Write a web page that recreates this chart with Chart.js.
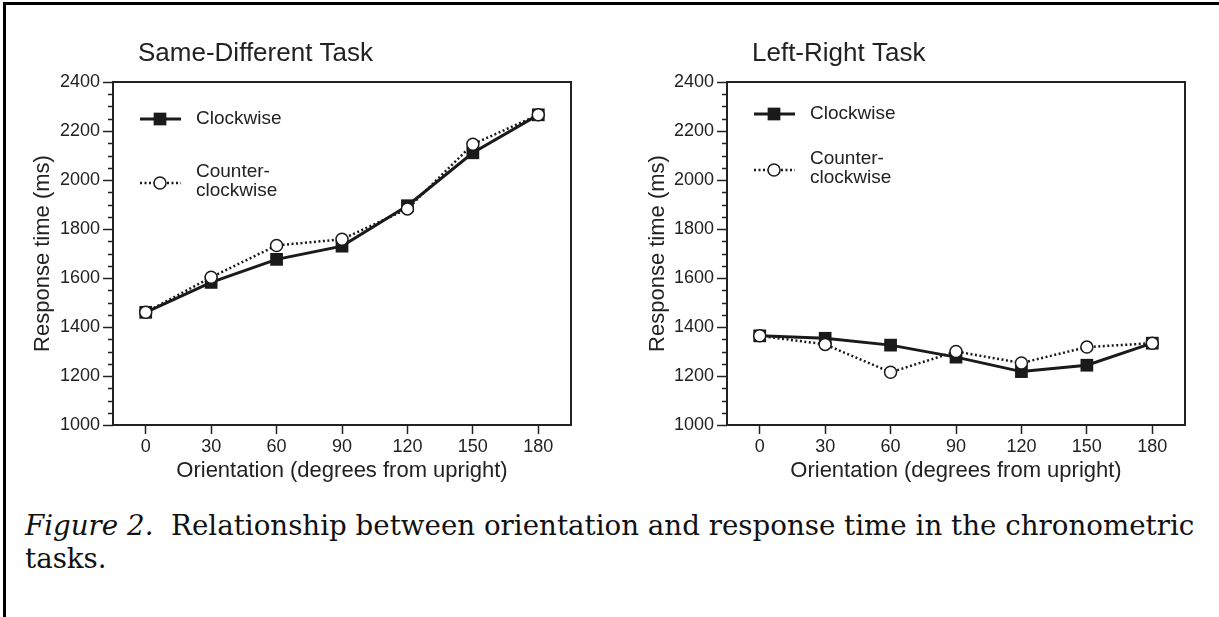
<!DOCTYPE html>
<html lang="en">
  <head>
    <meta charset="UTF-8" />
    <title>Figure 2 - orientation and response time</title>
    <script src="https://cdn.jsdelivr.net/npm/chart.js"></script>
    <style>
      body { margin: 0; background: #fff; }
      #page { position: relative; width: 1219px; height: 617px; overflow: hidden; background: #fff; }
      #frame { position: absolute; left: 3px; top: 2px; width: 1230px; height: 630px; border-top: 3px solid #000; border-left: 3px solid #000; }
      canvas { position: absolute; top: 0; }
      #leftChart { left: 0; }
      #rightChart { left: 610px; }
      #caption {
        position: absolute; left: 25px; top: 509px;
        font-family: "DejaVu Serif", "Liberation Serif", serif;
        font-size: 27.7px; line-height: 33px; color: #111; white-space: nowrap;
      }
    </style>
  </head>
  <body>
    <div id="page">
      <div id="frame"></div>
      <canvas id="leftChart" width="610" height="500"></canvas>
      <canvas id="rightChart" width="609" height="500"></canvas>
      <div id="caption"><i>Figure 2.</i>&nbsp; Relationship between orientation and response time in the chronometric<br>tasks.</div>
    </div>
    <script>
      // orientation (degrees from upright)
      var degrees = [0, 30, 60, 90, 120, 150, 180]
      var yTickValues = [1000, 1200, 1400, 1600, 1800, 2000, 2200, 2400]

      // response times (ms)
      var sameDiffClockwise = [1460, 1582, 1676, 1730, 1895, 2111, 2266]
      var sameDiffCounter = [1460, 1603, 1733, 1758, 1882, 2146, 2266]
      var leftRightClockwise = [1364, 1354, 1326, 1277, 1218, 1244, 1334]
      var leftRightCounter = [1364, 1329, 1215, 1300, 1253, 1318, 1334]

      var ink = "#222"
      var sans = "'Liberation Sans', Arial, sans-serif"

      // draws the box, minor ticks, panel title and the in-plot legend
      var panelPlugin = {
        id: "panel",
        beforeDatasetsDraw: function (chart) {
          var a = chart.chartArea
          var ctx = chart.ctx
          var y = chart.scales.y
          ctx.save()
          ctx.strokeStyle = ink
          ctx.lineWidth = 2
          ctx.strokeRect(a.left, a.top, a.right - a.left, a.bottom - a.top)
          ctx.lineWidth = 1.5
          ctx.beginPath()
          for (var v = yTickValues[0]; v <= yTickValues[yTickValues.length - 1]; v += 50) {
            if (yTickValues.indexOf(v) >= 0) continue
            var py = Math.round(y.getPixelForValue(v)) + 0.5
            ctx.moveTo(a.left - 5, py)
            ctx.lineTo(a.left, py)
          }
          ctx.stroke()
          ctx.restore()
        },
        afterDraw: function (chart, args, opts) {
          var a = chart.chartArea
          var ctx = chart.ctx
          ctx.save()
          ctx.fillStyle = ink
          ctx.font = "26px " + sans
          ctx.textBaseline = "alphabetic"
          ctx.fillText(opts.title, a.left + 25, 61)

          opts.legend.forEach(function (item) {
            var d = chart.data.datasets[item.index]
            var ly = a.top + item.dy
            ctx.strokeStyle = d.borderColor
            ctx.lineWidth = d.borderWidth
            ctx.setLineDash(d.borderDash || [])
            ctx.beginPath()
            ctx.moveTo(a.left + 27, ly)
            ctx.lineTo(a.left + 68, ly)
            ctx.stroke()
            ctx.setLineDash([])
            ctx.fillStyle = d.pointBackgroundColor
            ctx.lineWidth = d.pointBorderWidth
            Chart.helpers.drawPoint(ctx, {
              pointStyle: d.pointStyle,
              radius: d.pointRadius,
              borderWidth: d.pointBorderWidth,
              rotation: 0
            }, a.left + 47, ly)
            ctx.fillStyle = ink
            ctx.font = "19px " + sans
            ctx.textBaseline = "middle"
            if (item.lines.length === 1) {
              ctx.fillText(item.lines[0], a.left + 83, ly)
            } else {
              ctx.fillText(item.lines[0], a.left + 83, ly - 11)
              ctx.fillText(item.lines[1], a.left + 83, ly + 8)
            }
          })
          ctx.restore()
        }
      }

      function toPoints(values) {
        return degrees.map(function (d, i) { return { x: d, y: values[i] } })
      }

      function makeChart(id, title, clockwise, counter, pad, legendDy) {
        var ctx = document.getElementById(id).getContext("2d")
        return new Chart(ctx, {
          type: "line",
          data: {
            datasets: [
              {
                label: "Clockwise",
                data: toPoints(clockwise),
                borderColor: "#1a1a1a",
                borderWidth: 3,
                pointStyle: "rect",
                pointRadius: 9,
                pointBackgroundColor: "#1a1a1a",
                pointBorderColor: "#1a1a1a",
                pointBorderWidth: 0,
                tension: 0,
                order: 2
              },
              {
                label: "Counter-clockwise",
                data: toPoints(counter),
                borderColor: "#1a1a1a",
                borderWidth: 2.5,
                borderDash: [2, 2.5],
                pointStyle: "circle",
                pointRadius: 6,
                pointBackgroundColor: "#fff",
                pointBorderColor: "#1a1a1a",
                pointBorderWidth: 1.5,
                tension: 0,
                order: 1
              }
            ]
          },
          options: {
            responsive: false,
            animation: false,
            events: [],
            layout: { padding: { left: pad.left, right: pad.right, top: 82, bottom: 15 } },
            scales: {
              x: {
                type: "linear",
                min: -15,
                max: 195,
                afterBuildTicks: function (s) {
                  s.ticks = degrees.map(function (v) { return { value: v } })
                },
                afterFit: function (s) { s.height = 60 },
                grid: { drawOnChartArea: false, drawTicks: true, tickLength: 9, tickColor: ink, tickWidth: 1.5 },
                border: { display: false },
                ticks: {
                  color: ink, font: { size: 18, family: sans }, padding: 2, maxRotation: 0,
                  callback: function (v) { return String(v) }
                },
                title: {
                  display: true,
                  text: "Orientation (degrees from upright)",
                  color: ink,
                  font: { size: 22, family: sans },
                  padding: { top: 0, bottom: 1 }
                }
              },
              y: {
                min: 1000,
                max: 2400,
                afterBuildTicks: function (s) {
                  s.ticks = yTickValues.map(function (v) { return { value: v } })
                },
                afterFit: function (s) { s.width = 100 },
                grid: { drawOnChartArea: false, drawTicks: true, tickLength: 10, tickColor: ink, tickWidth: 1.5 },
                border: { display: false },
                ticks: {
                  color: ink, font: { size: 18, family: sans }, padding: 3,
                  callback: function (v) { return String(v) }
                },
                title: {
                  display: true,
                  text: "Response time (ms)",
                  color: ink,
                  font: { size: 22, family: sans },
                  padding: { top: pad.yTitle, bottom: 0 }
                }
              }
            },
            plugins: {
              legend: { display: false },
              tooltip: { enabled: false },
              panel: {
                title: title,
                legend: [
                  { index: 0, dy: legendDy[0], lines: ["Clockwise"] },
                  { index: 1, dy: legendDy[1], lines: ["Counter-", "clockwise"] }
                ]
              }
            }
          },
          plugins: [panelPlugin]
        })
      }

      makeChart("leftChart", "Same-Different Task", sameDiffClockwise, sameDiffCounter,
        { left: 13, right: 39, yTitle: 17 }, [37, 101])
      makeChart("rightChart", "Left-Right Task", leftRightClockwise, leftRightCounter,
        { left: 17, right: 34, yTitle: 18 }, [32, 88])
    </script>
  </body>
</html>
